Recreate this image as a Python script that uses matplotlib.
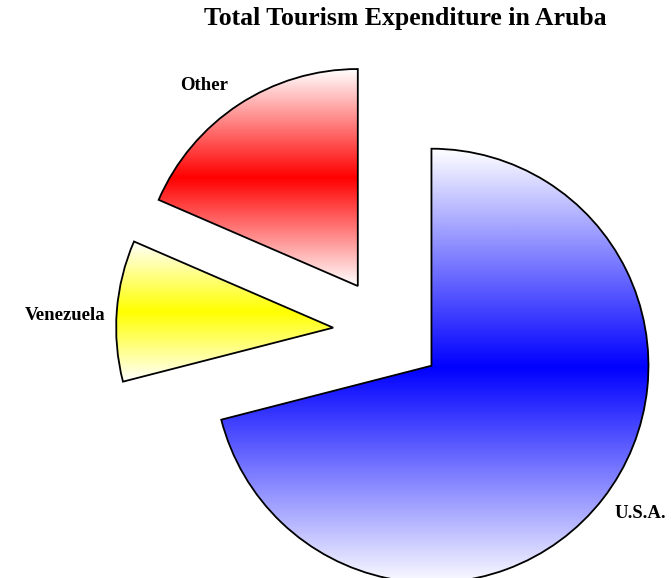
import numpy as np
import matplotlib.pyplot as plt
from matplotlib.colors import to_rgb

# Tourism expenditure shares (percent)
labels = ['U.S.A.', 'Venezuela', 'Other']
shares = [71.0, 10.5, 18.5]
colors = ['#0000ff', '#ffff00', '#ff0000']

W, H = 671, 578
fig = plt.figure(figsize=(W / 100, H / 100), dpi=100)
ax = fig.add_axes([0, 0, 1, 1])

# pixel-ish data units: pie centre, radius and explode offset
cx, cy, r = 388, H - 332, 217
wedges, _ = ax.pie(shares, startangle=90, counterclock=False, explode=[55] * 3,
                   center=(cx, cy), radius=r, frame=True,
                   wedgeprops=dict(facecolor='none', edgecolor='black', linewidth=1.3))
ax.set_xlim(0, W)
ax.set_ylim(0, H)
ax.set_aspect('equal')
ax.axis('off')


def gradient_fill(wedge, color):
    # white -> colour -> white, top to bottom of the wedge
    verts = wedge.get_path().vertices
    x0, x1 = verts[:, 0].min(), verts[:, 0].max()
    y0, y1 = verts[:, 1].min(), verts[:, 1].max()
    t = np.linspace(-1, 1, 256)
    k = 1 - np.abs(t)
    rgb = np.array(to_rgb(color))
    img = 1 - k[:, None] * (1 - rgb[None, :])
    img = img[:, None, :]
    im = ax.imshow(img, extent=[x0, x1, y0, y1], origin='lower', aspect='auto',
                   interpolation='bilinear', zorder=0)
    im.set_clip_path(wedge)


for w, c in zip(wedges, colors):
    gradient_fill(w, c)
    w.set_zorder(2)

ax.set_xlim(0, W)
ax.set_ylim(0, H)

label_pos = [(640, 514), (65, 315), (204, 86)]
for lab, (px, py) in zip(labels, label_pos):
    ax.text(px, H - py, lab, ha='center', va='center', fontsize=13.5,
            fontweight='bold', family='Liberation Serif')

fig.text(405 / W, 1 - 19 / H, 'Total Tourism Expenditure in Aruba', ha='center', va='center',
         fontsize=18.5, fontweight='bold', family='Liberation Serif')

fig.savefig('out.png', dpi=100)
